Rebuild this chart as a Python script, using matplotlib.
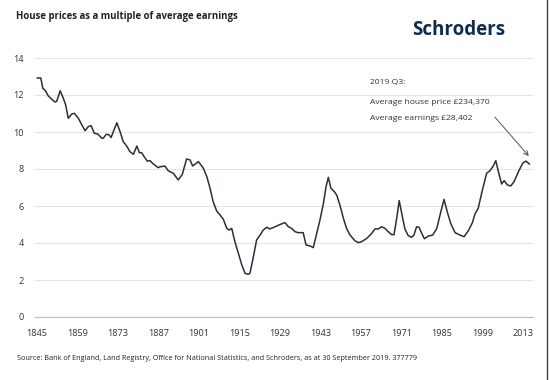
import matplotlib
matplotlib.use("Agg")
import matplotlib.pyplot as plt
from matplotlib.lines import Line2D

years = [1845.1, 1846.3, 1847.0, 1847.9, 1848.9, 1850.1, 1851.2, 1851.8, 1853.0, 1854.1,
         1854.9, 1855.8, 1857.0, 1857.9, 1859.3, 1860.5, 1861.6, 1862.7, 1863.7, 1864.8,
         1866.0, 1867.4, 1867.9, 1868.9, 1869.8, 1870.6, 1871.6, 1872.6, 1873.7, 1874.8,
         1876.0, 1877.1, 1878.3, 1879.5, 1880.4, 1881.2, 1882.0, 1883.1, 1884.1, 1885.2,
         1886.9, 1887.5, 1889.2, 1890.4, 1892.1, 1893.8, 1895.2, 1896.7, 1897.9, 1898.8,
         1900.8, 1902.5, 1903.7, 1904.8, 1905.9, 1907.1, 1908.3, 1909.4, 1910.6, 1911.4,
         1912.3, 1913.4, 1914.6, 1915.8, 1916.9, 1918.0, 1918.6, 1919.8, 1920.9, 1922.1,
         1923.2, 1924.4, 1925.5, 1927.3, 1929.0, 1930.7, 1931.9, 1933.0, 1934.2, 1935.3,
         1937.0, 1938.0, 1939.4, 1940.5, 1941.7, 1942.8, 1944.0, 1944.9, 1945.7, 1946.6,
         1947.8, 1948.6, 1949.7, 1950.9, 1952.0, 1953.2, 1954.9, 1956.1, 1957.2, 1959.0,
         1960.7, 1961.8, 1963.0, 1964.1, 1965.3, 1966.4, 1967.6, 1968.4, 1969.3, 1970.2,
         1971.3, 1972.2, 1973.3, 1974.5, 1975.3, 1976.2, 1977.1, 1978.0, 1978.9, 1980.3,
         1981.8, 1983.2, 1984.3, 1985.7, 1986.8, 1988.0, 1989.5, 1991.2, 1992.6, 1994.1,
         1995.5, 1996.4, 1997.5, 1998.7, 2000.4, 2001.6, 2002.7, 2003.6, 2004.5, 2005.6,
         2006.5, 2007.6, 2008.7, 2009.9, 2011.4, 2012.9, 2014.0, 2015.2]
ratio = [12.92, 12.92, 12.36, 12.23, 11.95, 11.77, 11.62, 11.66, 12.23, 11.82,
         11.46, 10.74, 10.97, 11.01, 10.74, 10.38, 10.07, 10.29, 10.34, 9.93,
         9.89, 9.66, 9.66, 9.87, 9.86, 9.70, 10.11, 10.50, 10.02, 9.48,
         9.24, 8.94, 8.79, 9.24, 8.88, 8.88, 8.67, 8.43, 8.45, 8.27,
         8.07, 8.12, 8.16, 7.90, 7.77, 7.41, 7.70, 8.54, 8.49, 8.16,
         8.40, 8.04, 7.59, 6.96, 6.23, 5.73, 5.51, 5.28, 4.79, 4.70,
         4.79, 4.07, 3.44, 2.81, 2.36, 2.31, 2.36, 3.26, 4.16, 4.43,
         4.70, 4.85, 4.76, 4.88, 5.00, 5.10, 4.88, 4.79, 4.61, 4.56,
         4.56, 3.89, 3.84, 3.75, 4.52, 5.24, 6.14, 7.04, 7.55, 6.96,
         6.77, 6.59, 6.05, 5.34, 4.79, 4.43, 4.12, 4.02, 4.07, 4.25,
         4.52, 4.76, 4.76, 4.88, 4.79, 4.61, 4.45, 4.45, 5.30, 6.29,
         5.42, 4.74, 4.40, 4.31, 4.43, 4.88, 4.84, 4.52, 4.23, 4.38,
         4.43, 4.79, 5.51, 6.36, 5.69, 5.06, 4.56, 4.43, 4.34, 4.66,
         5.10, 5.57, 5.87, 6.69, 7.77, 7.91, 8.16, 8.45, 7.85, 7.19,
         7.37, 7.14, 7.08, 7.31, 7.85, 8.31, 8.43, 8.27]

x_ticks = [1845, 1859, 1873, 1887, 1901, 1915, 1929, 1943, 1957, 1971, 1985, 1999, 2013]
y_ticks = [0, 2, 4, 6, 8, 10, 12, 14]

title = "House prices as a multiple of average earnings"
note_lines = ["2019 Q3:", "Average house price £234,370", "Average earnings £28,402"]
source = "Source: Bank of England, Land Registry, Office for National Statistics, and Schroders, as at 30 September 2019. 377779"

plt.rcParams['font.family'] = ['Open Sans', 'DejaVu Sans']
txt = '#333333'

fig = plt.figure(figsize=(5.49, 3.80), dpi=100)
ax = fig.add_axes([35/549, 63/380, 498/549, 259/380])

ax.plot(years, ratio, color='#28303d', lw=1.1, solid_joinstyle='round')

ax.set_xlim(1844.3, 2016.45)
ax.set_ylim(0, 14)
ax.set_xticks(x_ticks)
ax.set_yticks(y_ticks)
ax.tick_params(axis='both', length=0, labelsize=6.6, colors=txt)
ax.tick_params(axis='x', pad=9)
ax.tick_params(axis='y', pad=8)
ax.grid(axis='y', color='#e4e4e4', lw=0.8)
ax.set_axisbelow(True)
for s in ['top', 'right', 'left']:
    ax.spines[s].set_visible(False)
ax.spines['bottom'].set_color('#c0c0c0')
ax.spines['bottom'].set_linewidth(0.9)

# annotation
ys = [12.65, 11.62, 10.72]
for t, yv in zip(note_lines, ys):
    ax.text(1960.1, yv, t, fontsize=6.1, color=txt, va='center', ha='left')
ax.annotate('', xy=(2015.0, 8.7), xytext=(2003.3, 10.8),
            arrowprops=dict(arrowstyle='->', color='#555555', lw=0.7,
                            shrinkA=0, shrinkB=0, mutation_scale=8))

fig.text(16/549, 1 - 16/380, title, fontsize=6.9, fontweight='bold', color='#222222',
         ha='left', va='center')
fig.text(505/549, 1 - 30/380, "Schroders", fontsize=13.5, fontweight='bold', color='#0d2d4f',
         ha='right', va='center')
fig.text(17/549, 1 - 359/380, source, fontsize=5.2, color='#222222', ha='left', va='center')

fig.add_artist(Line2D([546.5/549, 546.5/549], [0, 1], color='#444444', lw=1.0,
                      transform=fig.transFigure))

fig.savefig('out.png', dpi=100, facecolor='white')
